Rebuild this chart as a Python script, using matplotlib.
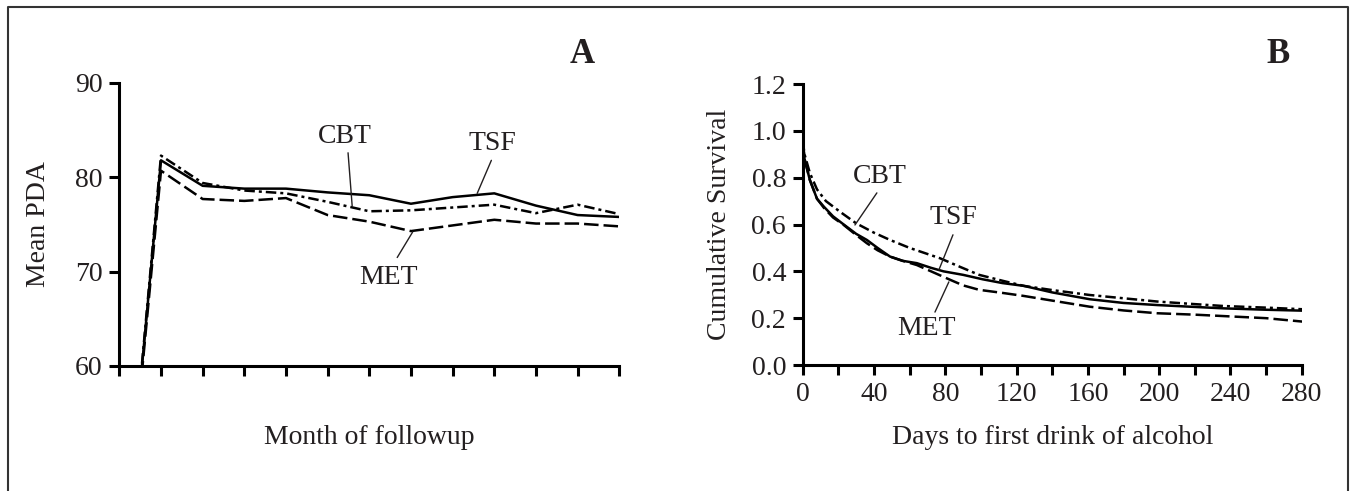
import matplotlib
matplotlib.use("Agg")
import matplotlib.pyplot as plt
from matplotlib.lines import Line2D
from matplotlib.ticker import MultipleLocator, FormatStrFormatter

plt.rcParams["font.family"] = ["Liberation Serif", "DejaVu Serif"]
INK = "#231f20"

# panel A: mean percent days abstinent by month (month 0 = baseline, off-scale)
months = list(range(13))
pda_cbt = [34.0, 82.3, 79.4, 78.6, 78.3, 77.4, 76.4, 76.5, 76.8, 77.1, 76.2, 77.1, 76.1]
pda_tsf = [34.0, 81.8, 79.1, 78.8, 78.8, 78.4, 78.1, 77.2, 77.9, 78.3, 77.0, 76.0, 75.8]
pda_met = [34.0, 80.7, 77.7, 77.5, 77.8, 76.0, 75.3, 74.3, 74.9, 75.5, 75.1, 75.1, 74.8]

# panel B: cumulative survival to first drink
days_cbt = [0, 1, 4, 8, 13, 21, 30, 40, 49, 60, 77, 88, 99, 112, 124, 140, 161, 180, 199, 220, 236, 260, 281]
surv_cbt = [0.96, 0.90, 0.82, 0.75, 0.70, 0.654, 0.605, 0.565, 0.534, 0.50, 0.456, 0.42, 0.385,
            0.36, 0.338, 0.32, 0.299, 0.285, 0.271, 0.26, 0.252, 0.245, 0.238]
days_tsf = [0, 1, 4, 8, 12, 17, 23, 30, 36, 42, 49, 56, 64, 72, 79, 90, 101, 112, 124, 140, 161,
            180, 199, 220, 236, 260, 281]
surv_tsf = [0.96, 0.88, 0.79, 0.71, 0.675, 0.635, 0.60, 0.56, 0.534, 0.50, 0.463, 0.445, 0.435,
            0.415, 0.40, 0.385, 0.366, 0.35, 0.338, 0.31, 0.281, 0.265, 0.256, 0.248, 0.242, 0.236, 0.232]
days_met = [0, 1, 4, 8, 12, 17, 23, 30, 36, 42, 49, 56, 64, 72, 83, 90, 99, 112, 124, 140, 161,
            180, 199, 220, 236, 260, 281]
surv_met = [0.96, 0.88, 0.79, 0.71, 0.67, 0.63, 0.598, 0.555, 0.52, 0.49, 0.463, 0.445, 0.427,
            0.40, 0.363, 0.34, 0.321, 0.308, 0.295, 0.275, 0.249, 0.233, 0.221, 0.215, 0.209, 0.200, 0.185]

LW = 1.8
DASH = (0, (5.8, 2.0))
DASHDOT = (0, (4.2, 1.6, 1.2, 1.6))
FS = 20


def style(ax):
    for s in ("top", "right"):
        ax.spines[s].set_visible(False)
    for s in ("left", "bottom"):
        ax.spines[s].set_linewidth(2.2)
        ax.spines[s].set_color("black")
    ax.tick_params(which="both", direction="out", length=7, width=2.2,
                   labelsize=FS, labelcolor=INK, pad=5)


def label(ax, text, xy, start, tip):
    ax.text(*xy, text, ha="center", va="center", fontsize=FS, color=INK)
    ax.annotate("", xy=tip, xytext=start,
                arrowprops=dict(arrowstyle="-", lw=1.0, color=INK, shrinkA=0, shrinkB=0))


fig = plt.figure(figsize=(13.53, 4.91), dpi=100)

# ---- A
axA = fig.add_axes([0.0882, 0.2546, 0.3695, 0.5764])
axA.plot(months, pda_tsf, color="black", lw=LW, solid_joinstyle="round")
axA.plot(months, pda_cbt, color="black", lw=LW, linestyle=DASHDOT)
axA.plot(months, pda_met, color="black", lw=LW, linestyle=DASH)
axA.set_xlim(0, 12)
axA.set_ylim(60, 90)
axA.set_xticks(months)
axA.set_xticklabels([])
axA.set_yticks([60, 70, 80, 90])
style(axA)
axA.set_ylabel("Mean PDA", fontsize=FS, color=INK, va="center")
axA.yaxis.set_label_coords(-0.161, 0.5)
axA.set_xlabel("Month of followup", fontsize=FS, color=INK, va="center")
axA.xaxis.set_label_coords(0.5, -0.254)
label(axA, "CBT", (5.42, 84.3), (5.49, 82.6), (5.59, 76.9))
label(axA, "TSF", (8.95, 83.6), (8.93, 81.8), (8.59, 78.3))
label(axA, "MET", (6.47, 69.4), (6.67, 71.5), (7.04, 74.2))

# ---- B
axB = fig.add_axes([0.5933, 0.2566, 0.3688, 0.5723])
axB.plot(days_tsf, surv_tsf, color="black", lw=LW, solid_joinstyle="round")
axB.plot(days_cbt, surv_cbt, color="black", lw=LW, linestyle=DASHDOT)
axB.plot(days_met, surv_met, color="black", lw=LW, linestyle=DASH)
axB.set_xlim(0, 280)
axB.set_ylim(0, 1.2)
axB.xaxis.set_major_locator(MultipleLocator(40))
axB.xaxis.set_minor_locator(MultipleLocator(20))
axB.set_yticks([0.0, 0.2, 0.4, 0.6, 0.8, 1.0, 1.2])
axB.yaxis.set_major_formatter(FormatStrFormatter("%.1f"))
style(axB)
axB.set_ylabel("Cumulative Survival", fontsize=FS, color=INK, va="center")
axB.yaxis.set_label_coords(-0.166, 0.5)
axB.set_xlabel("Days to first drink of alcohol", fontsize=FS, color=INK, va="center")
axB.xaxis.set_label_coords(0.5, -0.258)
label(axB, "CBT", (43.4, 0.803), (41.6, 0.735), (29.3, 0.598))
label(axB, "TSF", (84.3, 0.628), (84.3, 0.556), (76.4, 0.406))
label(axB, "MET", (69.7, 0.158), (74.2, 0.226), (82.0, 0.355))

fig.text(0.430, 0.888, "A", ha="center", va="center", fontsize=25, fontweight="bold", color=INK)
fig.text(0.9446, 0.888, "B", ha="center", va="center", fontsize=25, fontweight="bold", color=INK)

# outer frame (open at the bottom)
l, t, r = 8 / 1353, 1 - 7 / 491, 1348 / 1353
fig.add_artist(Line2D([l, l, r, r], [0, t, t, 0], transform=fig.transFigure,
                      color="#333333", lw=1.5))

fig.savefig("out.png", dpi=100)
